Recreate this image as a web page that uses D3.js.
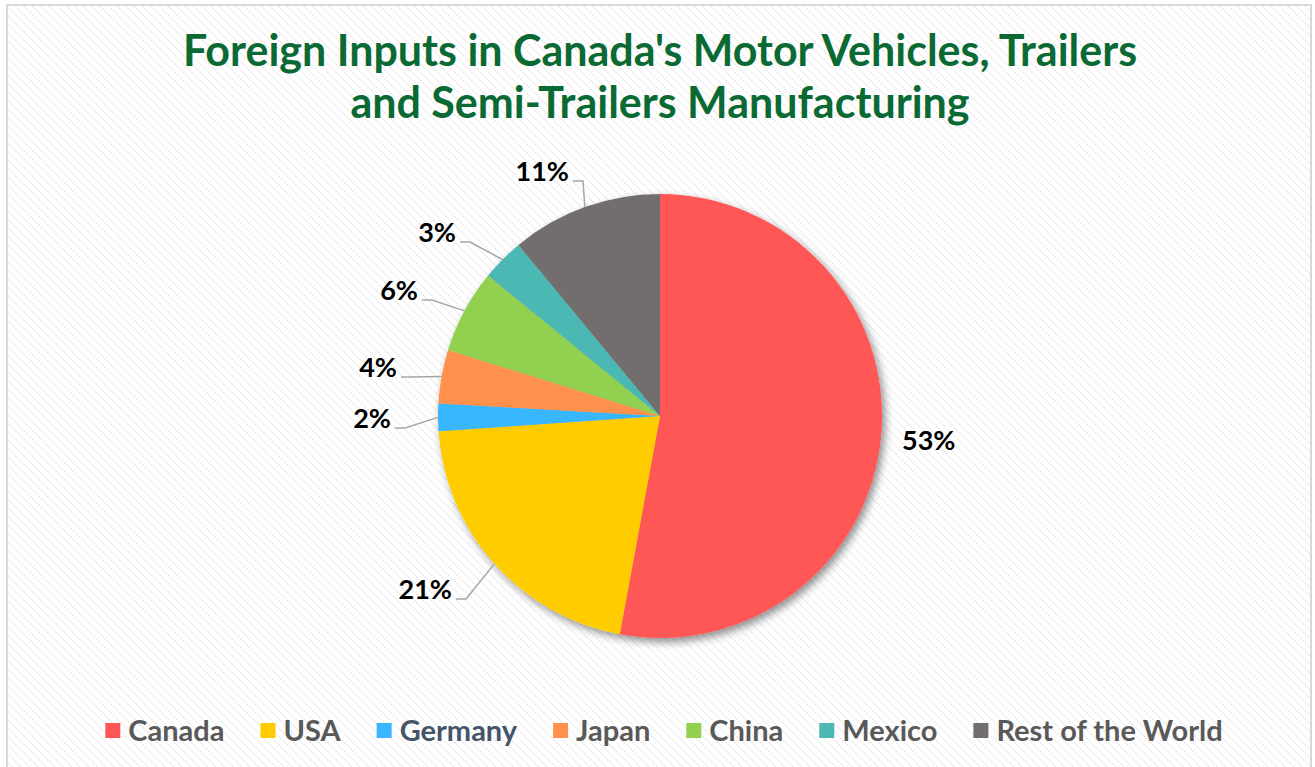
<!DOCTYPE html>
<html>
<head>
<meta charset="utf-8">
<script src="https://cdn.jsdelivr.net/npm/d3@7"></script>
<style>
  html, body { margin: 0; padding: 0; background: #fff; }
  text { font-family: Lato, "Open Sans", sans-serif; }
</style>
</head>
<body>
<script>
// #Data
const categories = ['Canada', 'USA', 'Germany', 'Japan', 'China', 'Mexico', 'Rest of the World'];
const shares = [52.9, 21.0, 2.0, 3.9, 6.1, 3.1, 11.0];
const labels = ['53%', '21%', '2%', '4%', '6%', '3%', '11%'];
const colors = ['#ff5757', '#ffcc00', '#38b6ff', '#ff914d', '#92d050', '#4bb8b3', '#736e6e'];
const legendText = ['#595959', '#595959', '#44546a', '#595959', '#595959', '#595959', '#595959'];
// label anchors relative to pie centre (text end x, text middle y)
const labelPos = [[242, 25], [-208, 174], [-269, 3], [-263, -48], [-242, -125], [-204, -183], [-91, -244]];

const width = 1315, height = 767;
const cx = 660, cy = 416, radius = 222;

const svg = d3.select('body')
              .append('svg')
              .attr('width', width)
              .attr('height', height);

const defs = svg.append('defs');

// #Hatched background
const pattern = defs.append('pattern')
                    .attr('id', 'hatch')
                    .attr('width', 6)
                    .attr('height', 6)
                    .attr('patternUnits', 'userSpaceOnUse')
                    .attr('patternTransform', 'rotate(-45)');
pattern.append('rect').attr('width', 6).attr('height', 6).attr('fill', '#fff');
pattern.append('line')
       .attr('x1', 0).attr('y1', 0).attr('x2', 0).attr('y2', 6)
       .attr('stroke', '#e2e2e2')
       .attr('stroke-width', 2)
       .attr('stroke-dasharray', '2 1');

// #Pie shadow
const shadow = defs.append('filter')
                   .attr('id', 'shadow')
                   .attr('x', '-20%').attr('y', '-20%')
                   .attr('width', '140%').attr('height', '140%');
shadow.append('feGaussianBlur').attr('in', 'SourceAlpha').attr('stdDeviation', 4);
shadow.append('feOffset').attr('dx', 3).attr('dy', 4).attr('result', 'off');
shadow.append('feComponentTransfer').append('feFuncA').attr('type', 'linear').attr('slope', 0.45);
const merge = shadow.append('feMerge');
merge.append('feMergeNode');
merge.append('feMergeNode').attr('in', 'SourceGraphic');

svg.append('rect')
   .attr('x', 7).attr('y', 5)
   .attr('width', 1304).attr('height', 770)
   .attr('fill', 'url(#hatch)')
   .attr('stroke', '#d9d9d9')
   .attr('stroke-width', 2);

// #Title
svg.append('text')
   .attr('text-anchor', 'middle')
   .attr('fill', '#0b6a34')
   .style('font-size', '43px')
   .style('font-weight', 'bold')
   .selectAll('tspan')
   .data(["Foreign Inputs in Canada's Motor Vehicles, Trailers", 'and Semi-Trailers Manufacturing'])
   .enter()
   .append('tspan')
   .attr('x', cx)
   .attr('y', (d, i) => 66 + i * 52)
   .text(d => d);

// #Pie
const data = categories.map((c, i) => ({ name: c, value: shares[i], label: labels[i], color: colors[i] }));
const pie = d3.pie().sort(null).value(d => d.value);
const arcs = pie(data);
const arc = d3.arc().innerRadius(0).outerRadius(radius);

const g = svg.append('g').attr('transform', `translate(${cx},${cy})`);

g.append('g')
 .attr('filter', 'url(#shadow)')
 .selectAll('path')
 .data(arcs)
 .enter()
 .append('path')
 .attr('d', arc)
 .attr('fill', d => d.data.color);

// #Labels and leader lines
const edge = d => {
    const a = (d.startAngle + d.endAngle) / 2;
    return [radius * Math.sin(a), -radius * Math.cos(a)];
};

arcs.forEach((d, i) => {
    const [lx, ly] = labelPos[i];
    const right = lx > 0;
    g.append('text')
     .attr('x', lx)
     .attr('y', ly)
     .attr('dy', '0.35em')
     .attr('text-anchor', right ? 'start' : 'end')
     .attr('fill', '#000')
     .style('font-size', '27px')
     .style('font-weight', 'bold')
     .text(d.data.label);
    if (!right) {
        const [ex, ey] = edge(d);
        const yLine = ly + 9;
        g.append('polyline')
         .attr('points', [[lx + 4, yLine], [lx + 14, yLine], [ex, ey]].map(p => p.join(',')).join(' '))
         .attr('fill', 'none')
         .attr('stroke', '#a6a6a6')
         .attr('stroke-width', 1.5);
    }
});

// #Legend
const legend = svg.append('g').attr('transform', 'translate(0,731)');
const items = legend.selectAll('g')
                    .data(data)
                    .enter()
                    .append('g');
items.append('rect')
     .attr('y', -8)
     .attr('width', 15)
     .attr('height', 15)
     .attr('fill', d => d.color);
items.append('text')
     .attr('x', 23)
     .attr('dy', '0.35em')
     .attr('fill', (d, i) => legendText[i])
     .style('font-size', '29px')
     .style('font-weight', 'bold')
     .text(d => d.name);

const gap = 36;
let xPos = 0;
const offsets = [];
items.each(function () {
    offsets.push(xPos);
    xPos += 23 + this.querySelector('text').getComputedTextLength() + gap;
});
const total = xPos - gap;
const start = cx + 4 - total / 2;
items.attr('transform', (d, i) => `translate(${start + offsets[i]},0)`);
</script>
</body>
</html>
